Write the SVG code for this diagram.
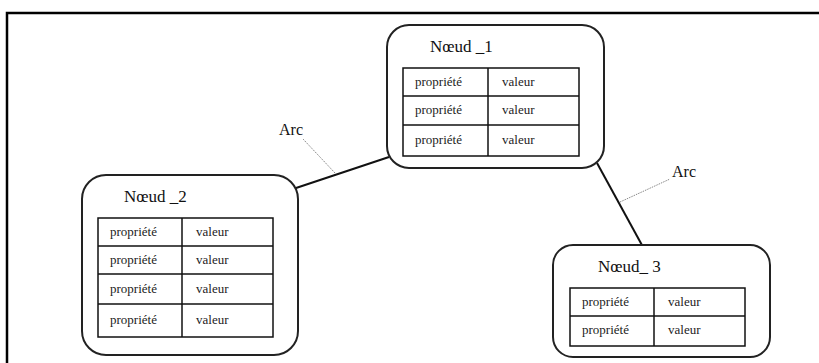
<svg xmlns="http://www.w3.org/2000/svg" width="819" height="363" viewBox="0 0 819 363">
<style>
.frame{fill:none;stroke:#000;stroke-width:2.5}
.node{fill:#fff;stroke:#222;stroke-width:2}
.tbl{fill:none;stroke:#111;stroke-width:1.5}
.title{font-family:"Liberation Serif",serif;font-size:17px;fill:#111}
.cell{font-family:"Liberation Serif",serif;font-size:13px;fill:#222}
.arc{fill:none;stroke:#111;stroke-width:2}
.lead{fill:none;stroke:#888;stroke-width:1;stroke-dasharray:1.5 1}
.lbl{font-family:"Liberation Serif",serif;font-size:16px;fill:#111}
</style>
<rect class="frame" x="7" y="13" width="830" height="370"/>
<g id="connectors">
<line class="arc" x1="293" y1="189" x2="389" y2="157"/>
<line class="lead" x1="335" y1="173" x2="303" y2="139"/>
<text class="lbl" x="279" y="135">Arc</text>
<line class="arc" x1="597" y1="163" x2="643" y2="247"/>
<line class="lead" x1="620" y1="202" x2="670" y2="179"/>
<text class="lbl" x="672" y="177">Arc</text>
</g>
<g id="node1">
<rect class="node" x="387" y="25" width="217" height="143" rx="22"/>
<text class="title" x="430" y="52">Nœud _1</text>
<rect class="tbl" x="403" y="68" width="176" height="88"/>
<line class="tbl" x1="488" y1="68" x2="488" y2="156"/>
<line class="tbl" x1="403" y1="96" x2="579" y2="96"/>
<line class="tbl" x1="403" y1="125" x2="579" y2="125"/>
<text class="cell" x="415" y="86">propriété</text><text class="cell" x="502" y="86">valeur</text>
<text class="cell" x="415" y="114">propriété</text><text class="cell" x="502" y="114">valeur</text>
<text class="cell" x="415" y="144">propriété</text><text class="cell" x="502" y="144">valeur</text>
</g>
<g id="node2">
<rect class="node" x="82" y="175" width="216" height="180" rx="24"/>
<text class="title" x="124" y="202">Nœud _2</text>
<rect class="tbl" x="98" y="218" width="175" height="119"/>
<line class="tbl" x1="182" y1="218" x2="182" y2="337"/>
<line class="tbl" x1="98" y1="246" x2="273" y2="246"/>
<line class="tbl" x1="98" y1="274" x2="273" y2="274"/>
<line class="tbl" x1="98" y1="304" x2="273" y2="304"/>
<text class="cell" x="110" y="236">propriété</text><text class="cell" x="196" y="236">valeur</text>
<text class="cell" x="110" y="264">propriété</text><text class="cell" x="196" y="264">valeur</text>
<text class="cell" x="110" y="293">propriété</text><text class="cell" x="196" y="293">valeur</text>
<text class="cell" x="110" y="324">propriété</text><text class="cell" x="196" y="324">valeur</text>
</g>
<g id="node3">
<rect class="node" x="553" y="245" width="217" height="112" rx="20"/>
<text class="title" x="598" y="272">Nœud_ 3</text>
<rect class="tbl" x="570" y="288" width="175" height="58"/>
<line class="tbl" x1="654" y1="288" x2="654" y2="346"/>
<line class="tbl" x1="570" y1="316" x2="745" y2="316"/>
<text class="cell" x="582" y="306">propriété</text><text class="cell" x="668" y="306">valeur</text>
<text class="cell" x="582" y="334">propriété</text><text class="cell" x="668" y="334">valeur</text>
</g>
</svg>
